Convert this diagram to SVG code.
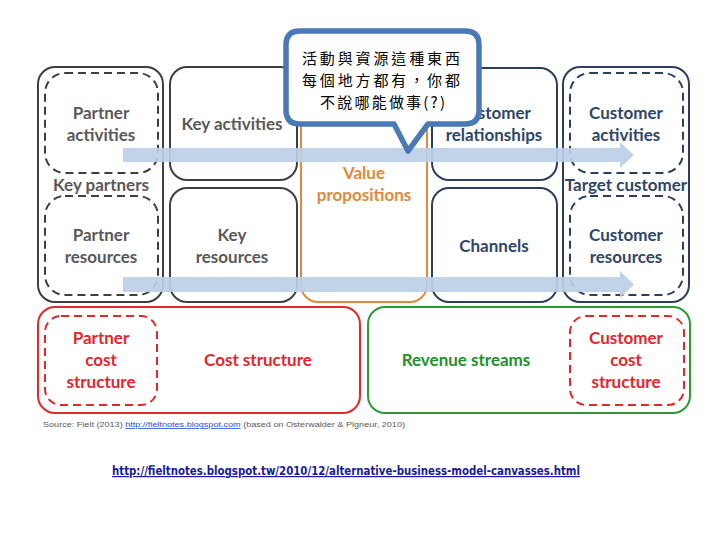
<svg xmlns="http://www.w3.org/2000/svg" width="720" height="540" viewBox="0 0 720 540">
<style>
.t{font-family:Lato,"Liberation Sans",sans-serif;font-weight:bold;font-size:17px;text-anchor:middle}
.g{fill:#595959}.o{fill:#e3883a}.b{fill:#2e4668}.r{fill:#e3262c}.gr{fill:#23912a}
.box{fill:none;stroke-width:2}
.dash{fill:none;stroke-width:2;stroke-dasharray:8 5}
.sg{stroke:#3f3f3f}.so{stroke:#e0883c}.sb{stroke:#2d3f5c}.sr{stroke:#e02a2a}.sgr{stroke:#2d9a34}
.arrow{fill:#bccfe6;opacity:0.92}
.cj{font-family:"Noto Sans CJK TC","Noto Sans CJK SC",sans-serif;font-size:15px;fill:#000}
</style>
<rect width="720" height="540" fill="#fff"/>
<g id="key-partners">
<rect class="box sg" x="38" y="67" width="125" height="235" rx="17"/>
<rect class="dash sg" x="45" y="73" width="113" height="100" rx="20"/>
<rect class="dash sg" x="45" y="196" width="113" height="99" rx="20"/>
<text class="t g" x="101" y="119">Partner</text>
<text class="t g" x="101" y="141">activities</text>
<text class="t g" x="101" y="191">Key partners</text>
<text class="t g" x="101" y="241">Partner</text>
<text class="t g" x="101" y="263">resources</text>
</g>
<g id="key-activities">
<rect class="box sg" x="170" y="67" width="127" height="113" rx="17"/>
<text class="t g" x="232" y="130">Key activities</text>
</g>
<g id="key-resources">
<rect class="box sg" x="170" y="188" width="127" height="114" rx="17"/>
<text class="t g" x="232" y="241">Key</text>
<text class="t g" x="232" y="263">resources</text>
</g>
<g id="value-propositions">
<rect class="box so" x="301" y="67" width="126" height="235" rx="17"/>
<text class="t o" x="364" y="179">Value</text>
<text class="t o" x="364" y="201">propositions</text>
</g>
<g id="customer-relationships">
<rect class="box sb" x="432" y="68" width="125" height="112" rx="17"/>
<text class="t b" x="494" y="119">Customer</text>
<text class="t b" x="494" y="141">relationships</text>
</g>
<g id="channels">
<rect class="box sb" x="432" y="188" width="125" height="114" rx="17"/>
<text class="t b" x="494" y="252">Channels</text>
</g>
<g id="target-customer">
<rect class="box sb" x="563" y="67" width="126" height="235" rx="17"/>
<rect class="dash sb" x="570" y="73" width="113" height="100" rx="20"/>
<rect class="dash sb" x="570" y="196" width="113" height="99" rx="20"/>
<text class="t b" x="626" y="119">Customer</text>
<text class="t b" x="626" y="141">activities</text>
<text class="t b" x="626" y="191">Target customer</text>
<text class="t b" x="626" y="241">Customer</text>
<text class="t b" x="626" y="263">resources</text>
</g>
<g id="cost-structure">
<rect class="box sr" x="38" y="307" width="322" height="106" rx="17"/>
<rect class="dash sr" x="45" y="316" width="112" height="89" rx="16"/>
<text class="t r" x="101" y="344">Partner</text>
<text class="t r" x="101" y="366">cost</text>
<text class="t r" x="101" y="388">structure</text>
<text class="t r" x="258" y="366">Cost structure</text>
</g>
<g id="revenue-streams">
<rect class="box sgr" x="368" y="307" width="322" height="106" rx="17"/>
<rect class="dash sr" x="570" y="316" width="114" height="89" rx="16"/>
<text class="t gr" x="466" y="366">Revenue streams</text>
<text class="t r" x="626" y="344">Customer</text>
<text class="t r" x="626" y="366">cost</text>
<text class="t r" x="626" y="388">structure</text>
</g>
<g id="connectors">
<path class="arrow" d="M123 148H620V142L634 155L620 168V162H123Z"/>
<path class="arrow" d="M123 277H620V271L634 284.5L620 298V292H123Z"/>
</g>
<g id="callout">
<path d="M300 31H465Q479 31 479 45V110Q479 124 465 124H428L408 151L394 124H300Q286 124 286 110V45Q286 31 300 31Z" fill="#fff" stroke="#4a7ab6" stroke-width="5.5" stroke-linejoin="round"/>
<text class="cj" x="302" y="64" textLength="158" lengthAdjust="spacing">活動與資源這種東西</text>
<text class="cj" x="302" y="86" textLength="158" lengthAdjust="spacing">每個地方都有，你都</text>
<text class="cj" x="320" y="108" textLength="125" lengthAdjust="spacing">不說哪能做事(?)</text>
</g>
<g id="source" font-family="'Liberation Sans',sans-serif" font-size="8" fill="#595959">
<text x="43" y="427" textLength="362" lengthAdjust="spacingAndGlyphs">Source: Fielt (2013) <tspan fill="#1f4fd0" text-decoration="underline">http://fieltnotes.blogspot.com</tspan>  (based on Osterwalder &amp; Pigneur, 2010)</text>
</g>
<g id="url">
<text x="112" y="475" font-family="'DejaVu Sans',sans-serif" font-size="12" font-weight="bold" fill="#1a1a9a" text-decoration="underline" textLength="468" lengthAdjust="spacingAndGlyphs">http://fieltnotes.blogspot.tw/2010/12/alternative-business-model-canvasses.html</text>
</g>
</svg>
